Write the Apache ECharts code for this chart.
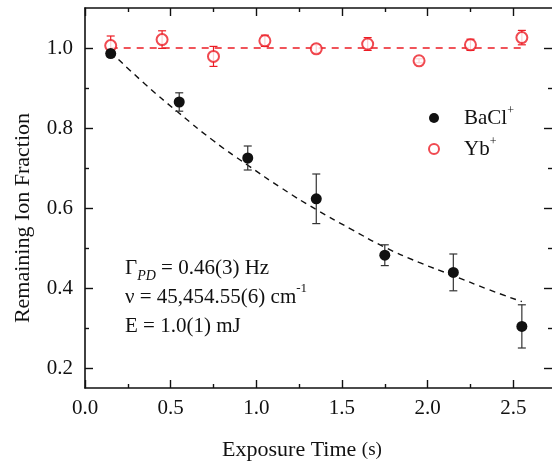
<!DOCTYPE html>
<html>
<head>
<meta charset="utf-8">
<script src="https://cdn.jsdelivr.net/npm/echarts@6/dist/echarts.min.js"></script>
<style>
html,body{margin:0;padding:0;background:#fff;}
#chart{width:552px;height:463px;}
</style>
</head>
<body>
<div id="chart"></div>
<script>
// ---- data ----
const baclT = [0.15, 0.55, 0.95, 1.35, 1.75, 2.15, 2.55];
const baclV = [0.986, 0.865, 0.725, 0.623, 0.482, 0.439, 0.304];
const baclErr = [0.008, 0.023, 0.030, 0.062, 0.026, 0.046, 0.054];

const ybT = [0.15, 0.45, 0.75, 1.05, 1.35, 1.65, 1.95, 2.25, 2.55];
const ybV = [1.006, 1.021, 0.979, 1.018, 0.998, 1.010, 0.968, 1.008, 1.026];
const ybErr = [0.024, 0.022, 0.025, 0.014, 0.010, 0.016, 0.005, 0.014, 0.018];

const fitT = [0.15, 0.35, 0.55, 0.75, 0.95, 1.15, 1.35, 1.55, 1.75, 1.95, 2.15, 2.35, 2.55];
const fitV = [0.990, 0.910, 0.837, 0.768, 0.707, 0.649, 0.596, 0.548, 0.502, 0.464, 0.431, 0.397, 0.366];

const refT = [0.15, 2.55];
const refV = [1.0, 1.0];

const xMajor = [0, 0.5, 1.0, 1.5, 2.0, 2.5];
const xMinor = [0.25, 0.75, 1.25, 1.75, 2.25];
const yMajor = [0.2, 0.4, 0.6, 0.8, 1.0];
const yMinor = [0.3, 0.5, 0.7, 0.9];

// ---- styling ----
const FONT = "'Liberation Serif','Times New Roman',serif";
const INK = '#111';
const RED = '#ec1c24';
const X_MIN = 0, X_MAX = 2.726, Y_MIN = 0.15, Y_MAX = 1.1;

function pairs(a, b) { return a.map((v, i) => [v, b[i]]); }
function bars(t, v, e) { return t.map((x, i) => [x, v[i] - e[i], v[i] + e[i]]); }

function errBar(color) {
  return function (params, api) {
    const x = api.value(0);
    const p1 = api.coord([x, api.value(1)]);
    const p2 = api.coord([x, api.value(2)]);
    const hw = 4;
    const st = { stroke: color, lineWidth: 1.2, fill: null };
    return {
      type: 'group',
      children: [
        { type: 'line', shape: { x1: p1[0], y1: p1[1], x2: p2[0], y2: p2[1] }, style: st },
        { type: 'line', shape: { x1: p1[0] - hw, y1: p1[1], x2: p1[0] + hw, y2: p1[1] }, style: st },
        { type: 'line', shape: { x1: p2[0] - hw, y1: p2[1], x2: p2[0] + hw, y2: p2[1] }, style: st }
      ]
    };
  };
}

function xAx(pos, ticks, len, labels, line) {
  return {
    type: 'value', position: pos, min: X_MIN, max: X_MAX,
    axisLine: { show: line, onZero: false, lineStyle: { color: INK, width: 1.6 } },
    axisTick: { show: true, inside: true, length: len, customValues: ticks, lineStyle: { color: INK, width: 1.4 } },
    axisLabel: labels ? { show: true, customValues: ticks, margin: 10, color: INK, fontFamily: FONT, fontSize: 21,
      formatter: v => v.toFixed(1) } : { show: false },
    splitLine: { show: false }
  };
}
function yAx(pos, ticks, len, labels, line) {
  return {
    type: 'value', position: pos, min: Y_MIN, max: Y_MAX,
    axisLine: { show: line, onZero: false, lineStyle: { color: INK, width: 1.6 } },
    axisTick: { show: true, inside: true, length: len, customValues: ticks, lineStyle: { color: INK, width: 1.4 } },
    axisLabel: labels ? { show: true, customValues: ticks, margin: 12, color: INK, fontFamily: FONT, fontSize: 21,
      formatter: v => v.toFixed(1) } : { show: false },
    splitLine: { show: false }
  };
}

const chart = echarts.init(document.getElementById('chart'), null, { renderer: 'canvas' });
chart.setOption({
  animation: false,
  backgroundColor: '#fff',
  grid: { left: 85, right: 0, top: 8, bottom: 75, containLabel: false },
  xAxis: [
    xAx('bottom', xMajor, 8, true, true),
    xAx('bottom', xMinor, 4, false, false),
    xAx('top', xMajor, 8, false, true),
    xAx('top', xMinor, 4, false, false)
  ],
  yAxis: [
    yAx('left', yMajor, 8, true, true),
    yAx('left', yMinor, 4, false, false),
    yAx('right', yMajor, 8, false, false),
    yAx('right', yMinor, 4, false, false)
  ],
  legend: {
    data: ['BaCl+', 'Yb+'],
    orient: 'vertical',
    left: 423, top: 100,
    itemWidth: 50, itemHeight: 10, itemGap: 7.5,
    formatter: n => n === 'BaCl+' ? '{n|BaCl}{s|+}' : '{n|Yb}{s|+}',
    textStyle: {
      color: INK, fontFamily: FONT,
      rich: {
        n: { fontSize: 21, fontFamily: FONT, color: INK, lineHeight: 26 },
        s: { fontSize: 12, fontFamily: FONT, color: INK, verticalAlign: 'top', lineHeight: 26 }
      }
    }
  },
  graphic: [
    { type: 'text', x: 125, y: 268, style: {
      text: '{m|Γ}{sub|PD}{m| = 0.46(3) Hz}', verticalAlign: 'middle',
      rich: {
        m: { fontSize: 21, fontFamily: FONT, fill: INK, lineHeight: 30 },
        sub: { fontSize: 14, fontFamily: FONT, fontStyle: 'italic', fill: INK, verticalAlign: 'bottom', lineHeight: 30 }
      } } },
    { type: 'text', x: 125, y: 297, style: {
      text: '{m|ν = 45,454.55(6) cm}{sup|-1}', verticalAlign: 'middle',
      rich: {
        m: { fontSize: 21, fontFamily: FONT, fill: INK, lineHeight: 30 },
        sup: { fontSize: 13, fontFamily: FONT, fill: INK, verticalAlign: 'top', lineHeight: 30 }
      } } },
    { type: 'text', x: 125, y: 326, style: {
      text: 'E = 1.0(1) mJ', verticalAlign: 'middle', font: '21px ' + FONT, fill: INK } },
    { type: 'text', x: 302, y: 450, style: {
      text: '{m|Exposure Time }{s|(s)}', align: 'center', verticalAlign: 'middle',
      rich: {
        m: { fontSize: 22, fontFamily: FONT, fill: INK },
        s: { fontSize: 19, fontFamily: FONT, fill: INK }
      } } },
    { type: 'text', x: 23, y: 218, rotation: Math.PI / 2, style: {
      text: 'Remaining Ion Fraction', align: 'center', verticalAlign: 'middle',
      font: '22px ' + FONT, fill: INK } }
  ],
  series: [
    { name: 'fitYb', type: 'line', data: pairs(refT, refV), showSymbol: false, symbol: 'none',
      lineStyle: { color: RED, width: 1.4, type: [7, 6] }, z: 2, silent: true },
    { name: 'fitBaCl', type: 'line', data: pairs(fitT, fitV), smooth: true, showSymbol: false, symbol: 'none',
      lineStyle: { color: INK, width: 1.4, type: [6, 5] }, z: 2, silent: true },
    { name: 'ybErr', type: 'custom', data: bars(ybT, ybV, ybErr), renderItem: errBar(RED),
      encode: { x: 0, y: [1, 2] }, z: 3, silent: true },
    { name: 'Yb+', type: 'scatter', data: pairs(ybT, ybV), symbol: 'emptyCircle', symbolSize: 11,
      itemStyle: { color: RED, borderColor: RED, borderWidth: 1.2 }, z: 4 },
    { name: 'baclErr', type: 'custom', data: bars(baclT, baclV, baclErr), renderItem: errBar('#333'),
      encode: { x: 0, y: [1, 2] }, z: 5, silent: true },
    { name: 'BaCl+', type: 'scatter', data: pairs(baclT, baclV), symbol: 'circle', symbolSize: 11,
      itemStyle: { color: INK, opacity: 1 }, z: 6 }
  ]
});
</script>
</body>
</html>
